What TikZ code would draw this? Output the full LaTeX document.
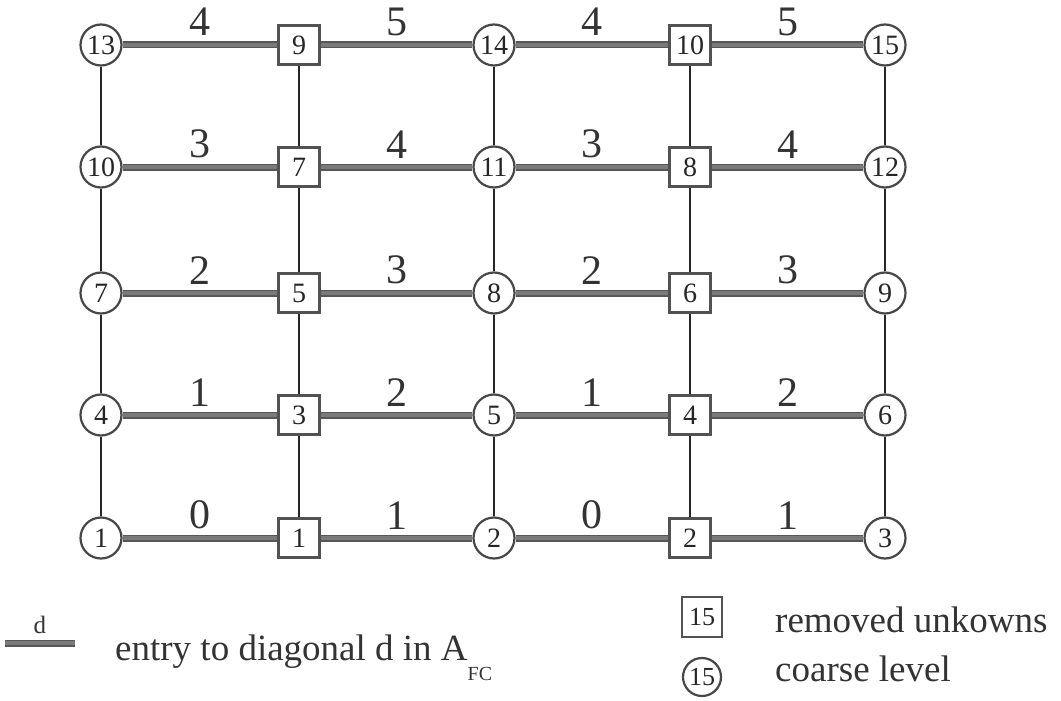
\documentclass[tikz,border=0pt]{standalone}
\usepackage{fontspec}
\setmainfont{Liberation Serif}
\begin{document}
\begin{tikzpicture}[x=1pt,y=-1pt,
  coarse/.style={circle, draw=black!72, line width=2.2pt, fill=white,
    minimum size=41pt, inner sep=0pt, text=black!85,
    font=\fontsize{28}{28}\selectfont},
  removed/.style={rectangle, draw=black!68, line width=2.6pt, fill=white,
    minimum width=41pt, minimum height=39pt, inner sep=0pt, text=black!85,
    font=\fontsize{28}{28}\selectfont},
  strong/.style={line width=7pt, draw=black!66},
  stronginner/.style={line width=4pt, draw=black!52},
  weak/.style={line width=1.2pt, draw=black!85},
  diaglabel/.style={midway, anchor=south, inner sep=0pt, yshift=7pt,
    text=black!80, font=\fontsize{42}{42}\selectfont},
  legendtext/.style={anchor=base west, inner sep=0pt, text=black!80,
    font=\fontsize{37}{37}\selectfont}
]
\useasboundingbox (0,0) rectangle (1061,701);

% grid of unknowns: circles = coarse level, squares = removed unknowns
\foreach \r/\y in {1/538,2/415,3/293,4/167,5/45} {
  \pgfmathtruncatemacro\ca{3*(\r-1)+1}
  \pgfmathtruncatemacro\cb{3*(\r-1)+2}
  \pgfmathtruncatemacro\cc{3*(\r-1)+3}
  \pgfmathtruncatemacro\fa{2*(\r-1)+1}
  \pgfmathtruncatemacro\fb{2*(\r-1)+2}
  \node[coarse]  (c\r a) at (101,\y) {\ca};
  \node[removed] (f\r a) at (299,\y) {\fa};
  \node[coarse]  (c\r b) at (494,\y) {\cb};
  \node[removed] (f\r b) at (690,\y) {\fb};
  \node[coarse]  (c\r c) at (885,\y) {\cc};
}

% vertical couplings
\foreach \r/\s in {1/2,2/3,3/4,4/5} {
  \draw[weak] (c\r a) -- (c\s a);
  \draw[weak] (f\r a) -- (f\s a);
  \draw[weak] (c\r b) -- (c\s b);
  \draw[weak] (f\r b) -- (f\s b);
  \draw[weak] (c\r c) -- (c\s c);
}

% horizontal couplings with their diagonal index
\foreach \r/\p/\q in {1/0/1,2/1/2,3/2/3,4/3/4,5/4/5} {
  \draw[strong] (c\r a) -- (f\r a);
  \draw[stronginner] (c\r a) -- node[diaglabel] {\p} (f\r a);
  \draw[strong] (f\r a) -- (c\r b);
  \draw[stronginner] (f\r a) -- node[diaglabel] {\q} (c\r b);
  \draw[strong] (c\r b) -- (f\r b);
  \draw[stronginner] (c\r b) -- node[diaglabel] {\p} (f\r b);
  \draw[strong] (f\r b) -- (c\r c);
  \draw[stronginner] (f\r b) -- node[diaglabel] {\q} (c\r c);
}

% legend
\coordinate (la) at (5,643);
\coordinate (lb) at (75,643);
\draw[strong] (la) -- (lb);
\draw[stronginner] (la) -- node[midway, anchor=south, inner sep=0pt, yshift=7pt,
  text=black!80, font=\fontsize{25}{25}\selectfont] (ld) {d} (lb);
\node[legendtext] (lt) at (115,660)
  {entry to diagonal d in A\raisebox{-20pt}{\fontsize{20}{20}\selectfont FC}};

\node[removed, font=\fontsize{26}{26}\selectfont, minimum width=40pt, minimum height=40pt] (lsq) at (702,617) {15};
\node[coarse, font=\fontsize{26}{26}\selectfont, minimum size=38pt] (lci) at (702,677) {15};
\node[legendtext] (lr) at (775,632) {removed unkowns};
\node[legendtext] (lc) at (775,681) {coarse level};
\end{tikzpicture}
\end{document}
